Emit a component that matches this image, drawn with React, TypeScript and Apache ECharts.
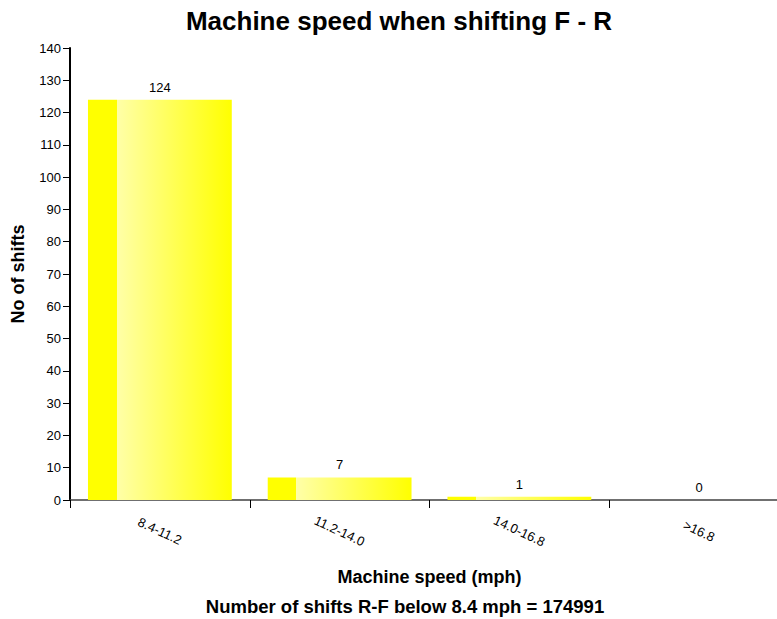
import React, { useEffect, useRef } from "react";
import * as echarts from "echarts";

const categories = ["8.4-11.2", "11.2-14.0", "14.0-16.8", ">16.8"];
const shifts = [124, 7, 1, 0];
const yTicks = { min: 0, max: 140, interval: 10 };
const titleText = "Machine speed when shifting F - R";
const xName = "Machine speed (mph)";
const yName = "No of shifts";
const footerText = "Number of shifts R-F below 8.4 mph = 174991";

const FONT = "'Liberation Sans', Arial, sans-serif";

export default function App() {
  const ref = useRef<HTMLDivElement>(null);
  useEffect(() => {
    document.body.style.margin = "0";
    const chart = echarts.init(ref.current!, undefined, { renderer: "svg" });
    const grad = new echarts.graphic.LinearGradient(0, 0, 1, 0, [
      { offset: 0, color: "#ffff00" },
      { offset: 0.2, color: "#ffff00" },
      { offset: 0.2001, color: "#ffffa8" },
      { offset: 1, color: "#ffff00" },
    ]);
    chart.setOption({
      animation: false,
      backgroundColor: "#ffffff",
      textStyle: { fontFamily: FONT },
      title: {
        text: titleText,
        left: 394,
        textAlign: "center",
        top: 3,
        textStyle: { fontFamily: FONT, fontSize: 26, fontWeight: "bold", color: "#000" },
      },
      grid: {
        left: 70,
        top: 48,
        bottom: 119,
        right: -12,
        containLabel: false,
        outerBoundsMode: "none",
      },
      xAxis: {
        type: "category",
        data: categories,
        name: xName,
        nameLocation: "middle",
        nameGap: 68,
        nameTextStyle: { fontFamily: FONT, fontSize: 18, fontWeight: "bold", color: "#000" },
        axisLine: { lineStyle: { color: "#404040", width: 1.5 } },
        axisTick: { show: true, length: 8, lineStyle: { color: "#000", width: 1 } },
        axisLabel: {
          rotate: -25,
          align: "center",
          verticalAlign: "middle",
          margin: 31,
          fontFamily: FONT,
          fontSize: 13,
          color: "#000",
        },
        splitLine: { show: false },
      },
      yAxis: {
        type: "value",
        min: yTicks.min,
        max: yTicks.max,
        interval: yTicks.interval,
        name: yName,
        nameLocation: "middle",
        nameGap: 43,
        nameTextStyle: { fontFamily: FONT, fontSize: 18, fontWeight: "bold", color: "#000" },
        axisLine: { show: true, lineStyle: { color: "#000", width: 2 } },
        axisTick: { show: true, length: 7, lineStyle: { color: "#000", width: 1 } },
        axisLabel: { fontFamily: FONT, fontSize: 13, color: "#000", margin: 9 },
        splitLine: { show: false },
      },
      series: [
        {
          type: "bar",
          data: shifts,
          barCategoryGap: "20%",
          itemStyle: { color: grad },
          label: {
            show: true,
            position: "top",
            distance: 6,
            fontFamily: FONT,
            fontSize: 13,
            color: "#000",
          },
        },
      ],
      graphic: [
        {
          type: "text",
          x: 405,
          y: 606,
          style: {
            text: footerText,
            fontFamily: FONT,
            fontSize: 18.5,
            fontWeight: "bold",
            fill: "#000",
            align: "center",
            verticalAlign: "middle",
          },
        },
      ],
    });
    return () => chart.dispose();
  }, []);
  return <div ref={ref} style={{ width: 777, height: 619 }} />;
}
